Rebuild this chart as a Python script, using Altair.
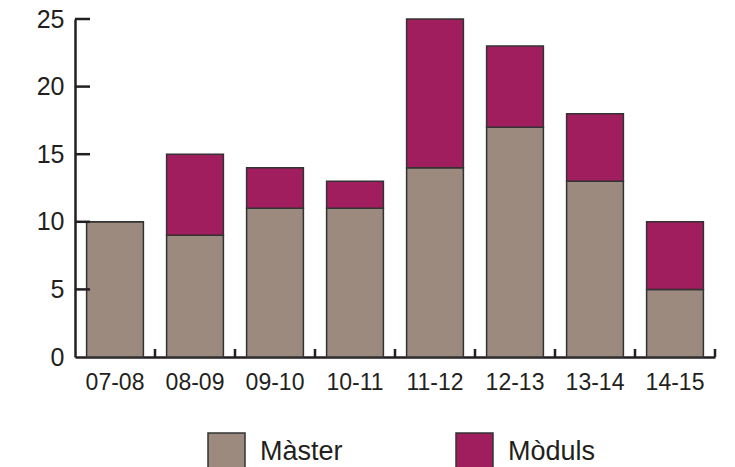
import altair as alt
import pandas as pd

cats = ["07-08", "08-09", "09-10", "10-11", "11-12", "12-13", "13-14", "14-15"]
master = [10, 9, 11, 11, 14, 17, 13, 5]
moduls = [0, 6, 3, 2, 11, 6, 5, 5]
series = ["Màster", "Mòduls"]
colors = ["#9c8a7e", "#a01d5e"]
yticks = [0, 5, 10, 15, 20, 25]

rows = []
for c, m, d in zip(cats, master, moduls):
    rows.append({"cat": c, "serie": series[0], "val": m, "ord": 0})
    rows.append({"cat": c, "serie": series[1], "val": d, "ord": 1})
df = pd.DataFrame(rows)

W, H = 640, 338
FONT = "Liberation Sans"
INK = "#231f20"

xscale = alt.Scale(domain=cats, paddingInner=0.29, paddingOuter=0.145)
yscale = alt.Scale(domain=[0, 25], nice=False)

bars = alt.Chart(df).mark_bar(stroke="#333333", strokeWidth=1.5).encode(
    x=alt.X("cat:N", scale=xscale, sort=cats,
            axis=alt.Axis(title=None, labelAngle=0, ticks=False, labelPadding=14,
                          labelFontSize=23, labelFont=FONT, labelColor=INK,
                          domainColor=INK, domainWidth=2.5)),
    y=alt.Y("val:Q", stack="zero", scale=yscale,
            axis=alt.Axis(title=None, values=yticks, ticks=False, grid=False,
                          labelPadding=11, labelFontSize=25, labelFont=FONT,
                          labelColor=INK, domainColor=INK, domainWidth=2.5)),
    color=alt.Color("serie:N", scale=alt.Scale(domain=series, range=colors),
                    legend=alt.Legend(title=None, orient="none", direction="horizontal",
                                      legendX=132, legendY=413, padding=0,
                                      symbolType="square", symbolSize=1369,
                                      symbolStrokeColor="#333333", symbolStrokeWidth=1.5,
                                      labelFontSize=27, labelFont=FONT, labelColor=INK,
                                      labelOffset=14, columnPadding=110)),
    order=alt.Order("ord:Q"),
)

# inward ticks on the y axis
ytick_df = pd.DataFrame({"v": yticks[1:]})
ytick_layer = alt.Chart(ytick_df).mark_rule(color=INK, strokeWidth=2.5).encode(
    y=alt.Y("v:Q", scale=yscale),
    x=alt.value(0), x2=alt.value(15),
)

# inward ticks on the x axis, at the band boundaries
xtick_df = pd.DataFrame({"cat": cats[1:]})
xtick_layer = alt.Chart(xtick_df).mark_rule(color=INK, strokeWidth=2.5, xOffset=-40).encode(
    x=alt.X("cat:N", scale=xscale, sort=cats),
    y=alt.value(H), y2=alt.value(H - 8),
)
xtick_end = alt.Chart(pd.DataFrame({"cat": [cats[-1]]})).mark_rule(
    color=INK, strokeWidth=2.5, xOffset=40).encode(
    x=alt.X("cat:N", scale=xscale, sort=cats),
    y=alt.value(H), y2=alt.value(H - 8),
)

chart = alt.layer(bars, ytick_layer, xtick_layer, xtick_end).properties(
    width=W, height=H,
    autosize=alt.AutoSizeParams(type="none"),
    padding={"left": 67, "top": 11, "right": 12, "bottom": 110},
).configure_view(stroke=None)

chart.save("out.html", embed_options={"renderer": "svg", "actions": False})
